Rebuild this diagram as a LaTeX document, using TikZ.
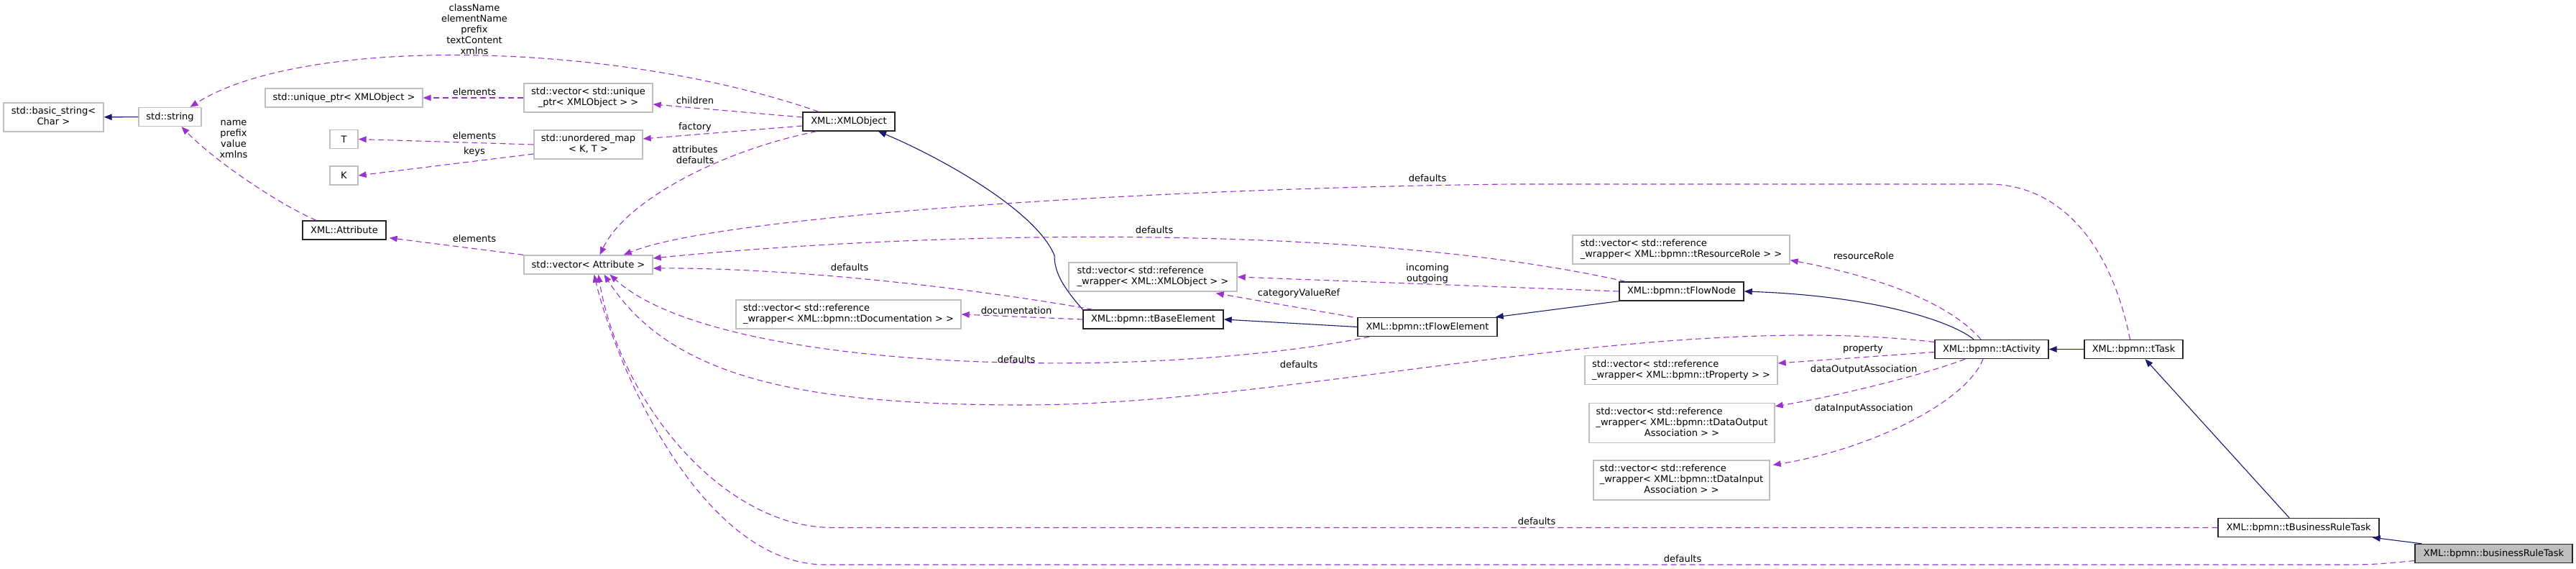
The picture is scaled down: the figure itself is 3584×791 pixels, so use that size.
\documentclass[tikz,border=0pt]{standalone}
\usepackage{fontspec}
\setmainfont{DejaVu Sans}
\usetikzlibrary{arrows.meta,calc}
\definecolor{inhblue}{HTML}{191970}
\definecolor{usepurple}{HTML}{9A32CD}
\definecolor{boxgray}{HTML}{BFBFBF}
\newcommand{\dlines}[2]{\begin{tabular}{@{}l@{}}#1\\\multicolumn{1}{@{}c@{}}{#2}\end{tabular}}
\begin{document}
\begin{tikzpicture}[x=1pt,y=-1pt,font=\fontsize{13}{15}\selectfont,
  nbox/.style={draw,inner sep=0pt,minimum height=26pt,fill=white},
  cls/.style={nbox,draw=black!85,line width=1.4pt},
  ext/.style={nbox,draw=boxgray,line width=1.3pt},
  cur/.style={cls,fill=boxgray},
  inh/.style={draw=inhblue,line width=1.1pt,-{Triangle[length=11pt,width=8.5pt]}},
  usage/.style={draw=usepurple,line width=1.1pt,dash pattern=on 8pt off 5pt,-{Triangle[length=11pt,width=8.5pt]}},
  lbl/.style={inner sep=0pt,align=center}]
  \useasboundingbox (0,0) rectangle (3584,791);

  % std types and templates
  \node[ext,minimum width=139pt,minimum height=40pt] (basic) at (74.5,163) {\dlines{std::basic\_string<}{Char >}};
  \node[ext,minimum width=87pt] (str) at (236.5,162.5) {std::string};
  \node[ext,minimum width=219pt] (uptr) at (478.5,136) {std::unique\_ptr< XMLObject >};
  \node[ext,minimum width=39pt] (tT) at (478.5,193.5) {T};
  \node[ext,minimum width=39pt] (tK) at (478.5,244) {K};
  \node[cls,minimum width=116pt] (attr) at (479,320) {XML::Attribute};
  \node[ext,minimum width=179pt,minimum height=40pt] (vecuptr) at (818.5,136) {\dlines{std::vector< std::unique}{\_ptr< XMLObject > >}};
  \node[ext,minimum width=151pt,minimum height=40pt] (umap) at (818.5,201) {\dlines{std::unordered\_map}{< K, T >}};
  \node[ext,minimum width=179pt] (vecattr) at (818.5,368) {std::vector< Attribute >};
  \node[cls,minimum width=128pt] (xmlobj) at (1181,169) {XML::XMLObject};
  \node[ext,minimum width=313pt,minimum height=40pt] (vecdoc) at (1180.5,437) {\dlines{std::vector< std::reference}{\_wrapper< XML::bpmn::tDocumentation > >}};
  \node[ext,minimum width=234pt,minimum height=40pt] (vecref) at (1604,385) {\dlines{std::vector< std::reference}{\_wrapper< XML::XMLObject > >}};
  % bpmn classes
  \node[cls,minimum width=195pt] (base) at (1604.5,444) {XML::bpmn::tBaseElement};
  \node[cls,minimum width=194pt] (flowel) at (1986,454.5) {XML::bpmn::tFlowElement};
  \node[ext,minimum width=302pt,minimum height=40pt] (role) at (2339,347) {\dlines{std::vector< std::reference}{\_wrapper< XML::bpmn::tResourceRole > >}};
  \node[cls,minimum width=173pt] (flownode) at (2339.5,405) {XML::bpmn::tFlowNode};
  \node[cls,minimum width=158pt] (activity) at (2771,485.5) {XML::bpmn::tActivity};
  \node[ext,minimum width=268pt,minimum height=40pt] (prop) at (2339,514.5) {\dlines{std::vector< std::reference}{\_wrapper< XML::bpmn::tProperty > >}};
  \node[ext,minimum width=258pt,minimum height=55pt] (dout) at (2340,588) {\dlines{std::vector< std::reference\\\_wrapper< XML::bpmn::tDataOutput}{Association > >}};
  \node[ext,minimum width=245pt,minimum height=55pt] (din) at (2339.5,667.5) {\dlines{std::vector< std::reference\\\_wrapper< XML::bpmn::tDataInput}{Association > >}};
  \node[cls,minimum width=137pt] (task) at (2968.5,485.5) {XML::bpmn::tTask};
  \node[cls,minimum width=224pt] (tbrt) at (3198,733.5) {XML::bpmn::tBusinessRuleTask};
  \node[cur,minimum width=219pt] (brt) at (3469.5,769.5) {XML::bpmn::businessRuleTask};

  % inheritance
  \draw[inh] (str) -- (basic);
  \draw[inh] (base.north west) .. controls (1480,400) and (1467,380) .. (1467,355) .. controls (1440,290) and (1300,215) .. ($(xmlobj.south)+(41,0)$);
  \draw[inh] (flowel.west) -- (base.east);
  \draw[inh] (flownode.south west) -- ($(flowel.north east)+(-3,0)$);
  \draw[inh] ($(activity.north)+(-25,0)$) .. controls (2720,450) and (2620,412) .. (flownode.east);
  \draw[inh] (task.west) -- (activity.east);
  \draw[inh] ($(tbrt.north)+(-13,0)$) -- ($(task.south)+(16,0)$);
  \draw[inh] ($(brt.north west)+(10,0)$) -- ($(tbrt.south east)+(-10,0)$);

  % usage
  \draw[usage] ($(attr.north)+(-39,0)$) .. controls (390,285) and (300,225) .. ($(str.south)+(16,0)$);
  \draw[usage] ($(xmlobj.north)+(-42,0)$) .. controls (850,55) and (420,50) .. ($(str.north)+(28,0)$);
  \draw[usage] (vecuptr) -- (uptr);
  \draw[usage] ($(xmlobj.west)+(0,-6)$) -- ($(vecuptr.east)+(0,9)$);
  \draw[usage] ($(xmlobj.west)+(0,6)$) -- ($(umap.east)+(0,-8)$);
  \draw[usage] (umap.west) -- (tT.east);
  \draw[usage] ($(umap.west)+(0,13)$) -- (tK.east);
  \draw[usage] (vecattr.north west) -- ($(attr.south east)+(4,-3)$);
  \draw[usage] ($(xmlobj.south)+(-45,0)$) .. controls (1000,210) and (870,280) .. ($(vecattr.north)+(16,0)$);
  \draw[usage] ($(task.north)+(-5,0)$) .. controls (2935,330) and (2860,256) .. (2766,256) -- (2100,256) .. controls (1600,262) and (1000,300) .. ($(vecattr.north east)+(-41,0)$);
  \draw[usage] ($(flownode.north west)+(9,0)$) .. controls (1900,310) and (1300,320) .. ($(vecattr.east)+(0,-9)$);
  \draw[usage] ($(base.north west)+(14,0)$) .. controls (1350,400) and (1100,372) .. ($(vecattr.east)+(0,5)$);
  \draw[usage] (base.west) -- (vecdoc.east);
  \draw[usage] ($(flowel.north west)+(-6,0)$) -- ($(vecref.south east)+(-30,2)$);
  \draw[usage] (flownode.west) -- (vecref.east);
  \draw[usage] ($(flowel.south west)+(17,0)$) .. controls (1600,530) and (1000,520) .. ($(vecattr.south)+(30,0)$);
  \draw[usage] ($(activity.west)+(0,-10)$) .. controls (2300,430) and (1800,563) .. (1423,563) .. controls (1100,563) and (930,520) .. ($(vecattr.south)+(22,0)$);
  \draw[usage] (tbrt.west) -- (1159,733.5) .. controls (1000,733.5) and (860,550) .. ($(vecattr.south)+(14,0)$);
  \draw[usage] ($(brt.west)+(0,10)$) .. controls (3300,785) .. (3250,785) -- (1148,785) .. controls (980,785) and (860,520) .. ($(vecattr.south)+(8,0)$);
  \draw[usage] ($(activity.north)+(-15,0)$) .. controls (2720,430) and (2640,390) .. ($(role.south east)+(0,-6)$);
  \draw[usage] ($(activity.west)+(0,4)$) -- ($(prop.east)+(0,-9.5)$);
  \draw[usage] ($(activity.south)+(-37,0)$) .. controls (2680,520) and (2560,550) .. ($(dout.north east)+(0,5)$);
  \draw[usage] ($(activity.south)+(-12,0)$) .. controls (2735,560) and (2600,625) .. ($(din.north east)+(4,7)$);

  % edge labels
  \node[lbl] (lname) at (325,193.5) {name\\prefix\\value\\xmlns};
  \node[lbl] (lclass) at (660,41) {className\\elementName\\prefix\\textContent\\xmlns};
  \node[lbl] (lelem1) at (660,128) {elements};
  \node[lbl] (lchild) at (967,140) {children};
  \node[lbl] (lfact) at (967,177) {factory};
  \node[lbl] (lelem2) at (660,189) {elements};
  \node[lbl] (lkeys) at (660,211) {keys};
  \node[lbl] (lattrs) at (967,215) {attributes\\defaults};
  \node[lbl] (lelem3) at (660,332) {elements};
  \node[lbl] (ldef1) at (1986,248) {defaults};
  \node[lbl] (ldef2) at (1606,320) {defaults};
  \node[lbl] (ldef3) at (1182,372) {defaults};
  \node[lbl] (ldoc) at (1414,432) {documentation};
  \node[lbl] (linout) at (1986,380) {incoming\\outgoing};
  \node[lbl] (lcat) at (1807,408) {categoryValueRef};
  \node[lbl] (ldef4) at (1414,500) {defaults};
  \node[lbl] (ldef5) at (1807,507) {defaults};
  \node[lbl] (lrole) at (2593,356) {resourceRole};
  \node[lbl] (lprop) at (2592,485) {property};
  \node[lbl] (ldout) at (2593,514) {dataOutputAssociation};
  \node[lbl] (ldin) at (2593,568) {dataInputAssociation};
  \node[lbl] (ldef6) at (2138,725) {defaults};
  \node[lbl] (ldef7) at (2341,777) {defaults};
\end{tikzpicture}
\end{document}
